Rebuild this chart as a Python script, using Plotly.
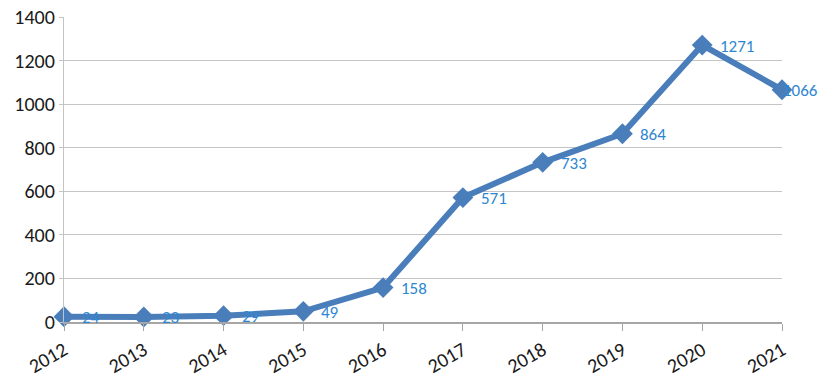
import plotly.graph_objects as go

years = [2012, 2013, 2014, 2015, 2016, 2017, 2018, 2019, 2020, 2021]
values = [24, 23, 29, 49, 158, 571, 733, 864, 1271, 1066]
y_ticks = [0, 200, 400, 600, 800, 1000, 1200, 1400]
label_shift = [16, 16, 16, 16, 16, 16, 16, 16, 16, -1]

FONT = "Carlito, Calibri, Lato, sans-serif"

fig = go.Figure()
fig.add_trace(go.Scatter(
    x=years, y=values,
    mode="lines+markers",
    line=dict(color="#4A7EBB", width=6),
    marker=dict(symbol="diamond", size=16, color="#4A7EBB"),
    cliponaxis=False,
    showlegend=False,
    hoverinfo="skip",
))
for x, v, s in zip(years, values, label_shift):
    fig.add_annotation(
        x=x, y=v, text=str(v), showarrow=False,
        xanchor="left", yanchor="middle", xshift=s, yshift=-1,
        font=dict(family=FONT, size=17, color="#2E86D1"),
    )

fig.update_layout(
    width=822, height=384,
    margin=dict(l=64, r=40, t=17, b=62),
    paper_bgcolor="white", plot_bgcolor="white",
    font=dict(family=FONT, size=20, color="#1a1a1a"),
)
fig.update_xaxes(
    range=[2012, 2021], tickvals=years, ticktext=[str(y) for y in years],
    tickangle=-30, showgrid=False, showline=True, linecolor="#A6A6A6", linewidth=1.5,
    ticks="outside", ticklen=7, tickcolor="#A6A6A6", zeroline=False, automargin=False,
)
fig.update_yaxes(
    range=[0, 1400], tickvals=y_ticks, showgrid=True, gridcolor="#C4C4C4", gridwidth=1.2,
    showline=True, linecolor="#C4C4C4", linewidth=1.2,
    ticks="outside", ticklen=4, tickcolor="#C4C4C4", zeroline=False, automargin=False,
)

fig.write_html(
    "out.html",
    config={"displayModeBar": False},
    post_script="document.body.style.margin='0';document.body.style.overflow='hidden';",
)
